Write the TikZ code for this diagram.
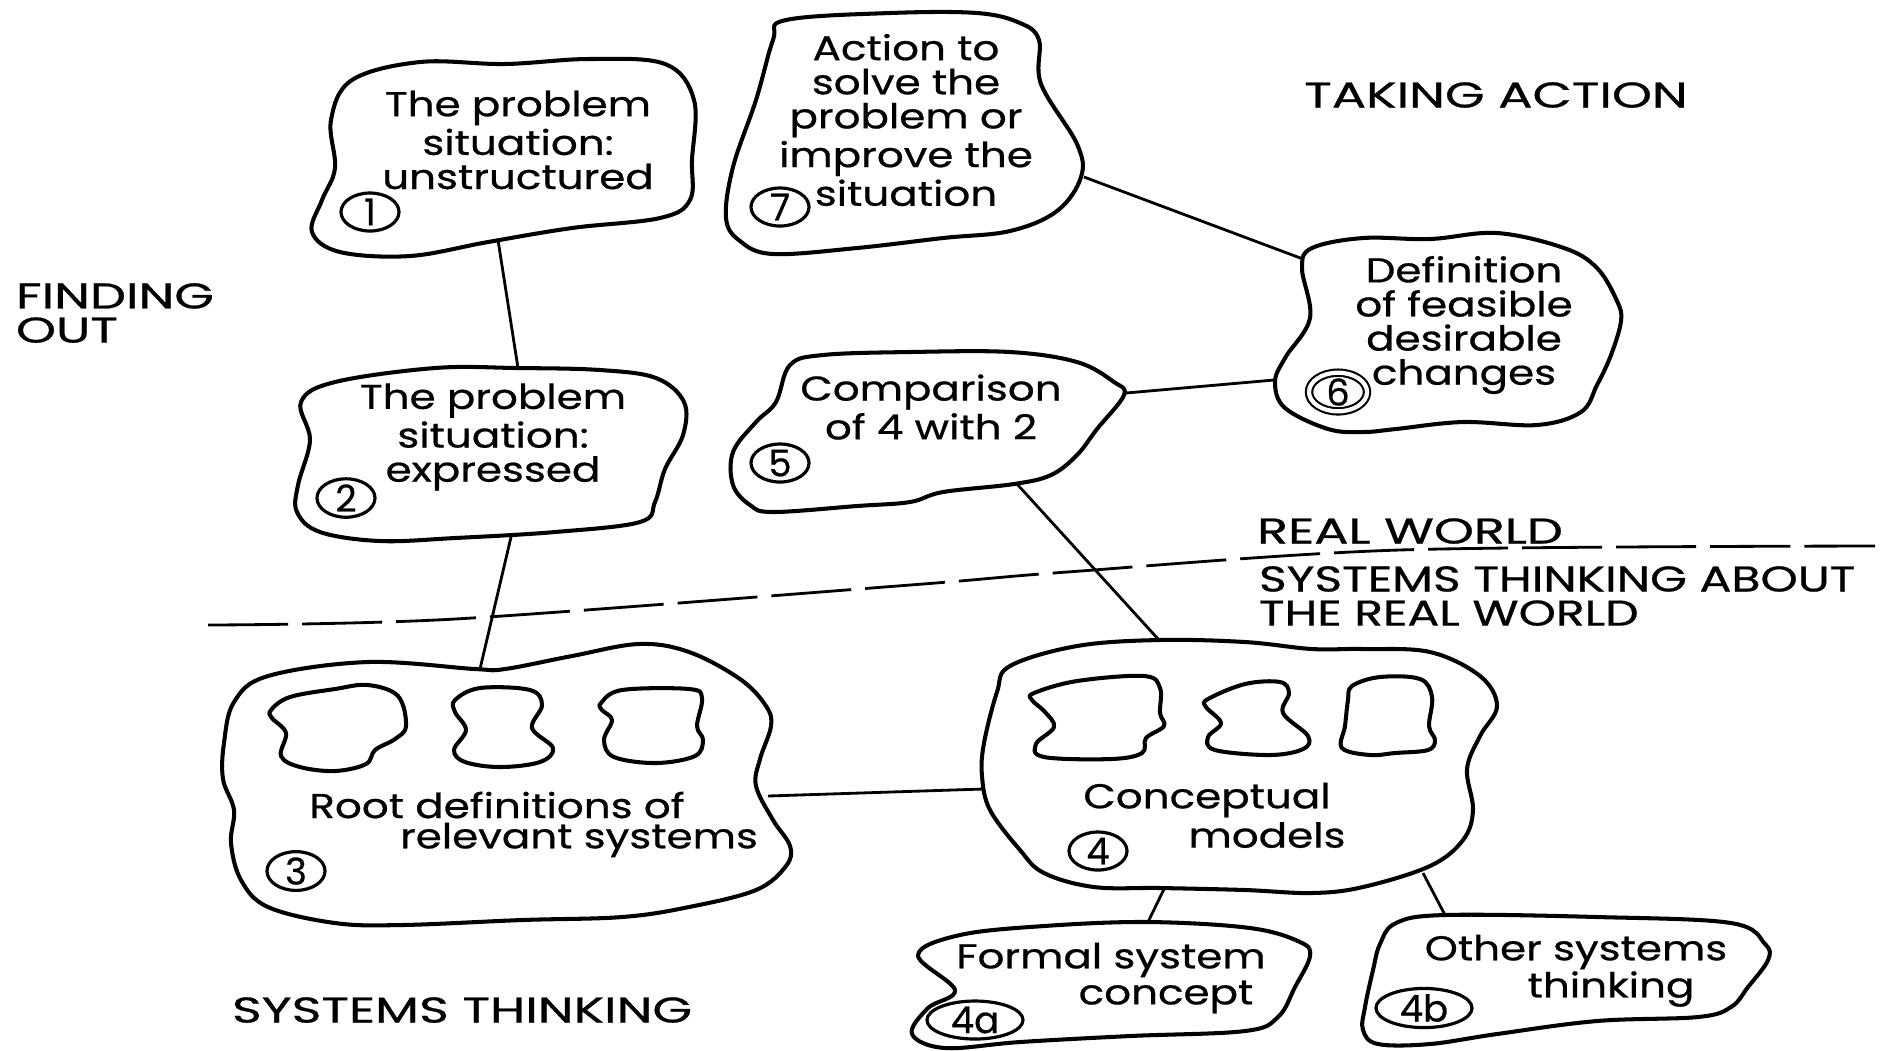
\documentclass[tikz,border=0pt]{standalone}
\usepackage{fontspec}
\setmainfont{Poppins}[FakeBold=0.6]
\usetikzlibrary{shapes.geometric}
\begin{document}
\begin{tikzpicture}[x=0.01cm,y=-0.01cm,line join=round,
  blob/.style={line width=1.15pt},
  link/.style={line width=0.8pt},
  lbl/.style={font=\fontsize{9.8}{9.7}\selectfont,align=center,inner sep=0pt,xscale=1.22},
  zone/.style={font=\fontsize{10.2}{9.7}\selectfont,align=center,inner sep=0pt,xscale=1.42},
  num/.style={draw,ellipse,line width=0.9pt,minimum width=0.58cm,minimum height=0.38cm,inner sep=0pt,font=\fontsize{10.5}{10}\selectfont}]
\useasboundingbox (0,0) rectangle (1888,1050);
%%
\draw[blob] plot[smooth cycle,tension=0.6] coordinates {(352,80) (420,62) (505,64) (589,59) (665,64) (694,100) (692,160) (690,200) (660,218) (572,228) (488,242) (410,256) (340,252) (312,232) (322,200) (335,168) (331,120)};
\draw[blob] plot[smooth cycle,tension=0.6] coordinates {(301,402) (335,382) (435,368) (517,368) (600,370) (656,378) (684,402) (683,435) (665,469) (655,502) (640,522) (555,532) (455,538) (380,541) (320,532) (297,512) (298,485) (310,440)};
\draw[blob] plot[smooth cycle,tension=0.6] coordinates {(786,20) (890,13) (977,13) (1020,23) (1039,40) (1041,84) (1077,144) (1081,177) (1057,211) (1010,231) (943,238) (857,248) (773,254) (740,241) (726,218) (733,167) (756,100) (773,40)};
\draw[blob] plot[smooth cycle,tension=0.6] coordinates {(790,365) (823,355) (910,352) (1010,352) (1077,362) (1114,382) (1124,395) (1097,429) (1077,455) (1051,475) (1014,484) (943,492) (910,502) (857,506) (773,512) (750,505) (733,485) (733,452) (756,422) (776,402)};
\draw[blob] plot[smooth cycle,tension=0.6] coordinates {(1312,248) (1363,238) (1430,239) (1497,233) (1564,248) (1597,268) (1617,301) (1621,321) (1611,355) (1597,385) (1581,412) (1537,425) (1463,422) (1396,429) (1363,432) (1328,429) (1285,408) (1275,382) (1285,358) (1310,318) (1302,268)};
\draw[blob] plot[smooth cycle,tension=0.6] coordinates {(268,676) (368,662) (475,669) (505,669) (572,656) (639,644) (689,652) (740,679) (766,706) (771,726) (760,759) (756,786) (773,820) (790,846) (786,866) (756,890) (689,907) (622,917) (522,920) (402,925) (335,923) (268,907) (241,880) (231,843) (234,810) (223,779) (224,743) (234,702)};
\draw[blob] plot[smooth cycle,tension=0.6] coordinates {(1010,666) (1077,646) (1159,640) (1245,642) (1312,649) (1363,649) (1430,652) (1480,676) (1497,706) (1480,736) (1467,769) (1473,810) (1463,840) (1430,866) (1363,887) (1312,893) (1245,890) (1161,888) (1094,887) (1044,873) (1020,850) (990,810) (982,776) (984,743) (997,692)};
\draw[blob] plot[smooth cycle,tension=0.6] coordinates {(960,935) (1044,926) (1148,922) (1250,928) (1300,942) (1310,956) (1295,987) (1278,1017) (1245,1031) (1130,1036) (1020,1042) (945,1048) (912,1034) (928,1008) (955,990) (918,955)};
\draw[blob] plot[smooth cycle,tension=0.6] coordinates {(1396,923) (1445,915) (1597,917) (1731,923) (1765,944) (1768,960) (1748,987) (1731,1007) (1698,1017) (1597,1021) (1497,1034) (1430,1044) (1378,1044) (1363,1030) (1365,1007) (1373,970) (1380,944)};
%
\draw[blob] plot[smooth cycle,tension=0.6] coordinates {(271,710) (290,697) (335,689) (368,685) (398,696) (406,726) (395,739) (375,750) (366,764) (335,771) (300,767) (281,756) (286,733) (272,718)};
\draw[blob] plot[smooth cycle,tension=0.6] coordinates {(455,700) (480,688) (530,690) (542,705) (532,728) (553,748) (540,762) (500,767) (465,762) (454,750) (466,730) (455,712)};
\draw[blob] plot[smooth cycle,tension=0.6] coordinates {(601,703) (622,690) (689,689) (702,698) (697,726) (703,740) (695,756) (656,763) (614,757) (604,740) (612,720) (602,710)};
\draw[blob] plot[smooth cycle,tension=0.6] coordinates {(1034,693) (1077,681) (1144,676) (1160,688) (1160,713) (1164,726) (1146,738) (1142,753) (1111,759) (1044,757) (1036,744) (1054,727) (1045,712) (1032,700)};
\draw[blob] plot[smooth cycle,tension=0.6] coordinates {(1208,699) (1245,684) (1280,682) (1289,693) (1283,713) (1308,736) (1303,749) (1270,755) (1215,750) (1208,737) (1221,723) (1206,707)};
\draw[blob] plot[smooth cycle,tension=0.6] coordinates {(1352,686) (1380,677) (1420,679) (1432,697) (1429,726) (1435,740) (1428,750) (1395,753) (1370,755) (1342,748) (1345,726) (1348,700)};
%
\node[lbl] (prob1) at (518,140) {The problem\\situation:\\unstructured};
\node[lbl] (prob2) at (493,437) {The problem\\situation:\\expressed};
\node[lbl] (act) at (906,120) {Action to\\solve the\\problem or\\improve the\\situation};
\node[lbl] (comp) at (931,407) {Comparison\\of 4 with 2};
\node[lbl] (chg) at (1464,325) {Definition\\of feasible\\desirable\\changes};
\node[lbl] (rootA) at (497,805) {Root definitions of};
\node[lbl] (rootB) at (579,840) {relevant systems};
\node[lbl] (concA) at (1207,800) {Conceptual};
\node[lbl] (concB) at (1267,835) {models};
\node[lbl] (formA) at (1111,960) {Formal system};
\node[lbl] (formB) at (1166,997) {concept};
\node[lbl] (othA) at (1576,952) {Other systems};
\node[lbl] (othB) at (1611,989) {thinking};
%
\node[num] (n1) at (370,212) {1};
\node[num] (n2) at (346,498) {2};
\node[num] (n3) at (296,871) {3};
\node[num] (n4) at (1098,851) {4};
\node[num] (n5) at (780,463) {5};
\node[num,double,double distance=1.2pt,line width=0.6pt] (n6) at (1338,392) {6};
\node[num] (n7) at (780,207) {7};
\node[num,minimum width=0.96cm] (n4a) at (975,1020) {4a};
\node[num,minimum width=0.96cm] (n4b) at (1424,1008) {4b};
%
\node[zone,anchor=west,align=left] (find) at (15,313) {FINDING\\OUT};
\node[zone] (take) at (1496,95) {TAKING ACTION};
\node[zone] (real) at (1410,531) {REAL WORLD};
\node[zone,xscale=0.93,anchor=west,align=left] (stw) at (1258,596) {SYSTEMS THINKING ABOUT\\THE REAL WORLD};
\node[zone] (syst) at (462,1010) {SYSTEMS THINKING};
%
\coordinate (b1s) at (498,240);
\coordinate (b2n) at (518,368);
\coordinate (b2s) at (511,537);
\coordinate (b3n) at (480,669);
\coordinate (b7e) at (1084,177);
\coordinate (b6w) at (1303,259);
\coordinate (b5e) at (1126,393);
\coordinate (b6s) at (1274,380);
\coordinate (b5s) at (1017,484);
\coordinate (b4n) at (1159,640);
\coordinate (b3e) at (768,796);
\coordinate (b4w) at (983,789);
\coordinate (b4s) at (1164,889);
\coordinate (b4an) at (1148,922);
\coordinate (b4e) at (1423,873);
\coordinate (b4bn) at (1445,915);
\draw[link] (b1s) -- (b2n);
\draw[link] (b2s) -- (b3n);
\draw[link] (b7e) -- (b6w);
\draw[link] (b5e) -- (b6s);
\draw[link] (b5s) -- (b4n);
\draw[link] (b3e) -- (b4w);
\draw[link] (b4s) -- (b4an);
\draw[link] (b4e) -- (b4bn);
%
\draw[link,dash pattern=on 0.8cm off 0.14cm] plot[smooth,tension=0.5] coordinates {(208,625) (455,619) (910,585) (1067,572) (1399,550) (1875,546)};
%
\end{tikzpicture}
\end{document}
